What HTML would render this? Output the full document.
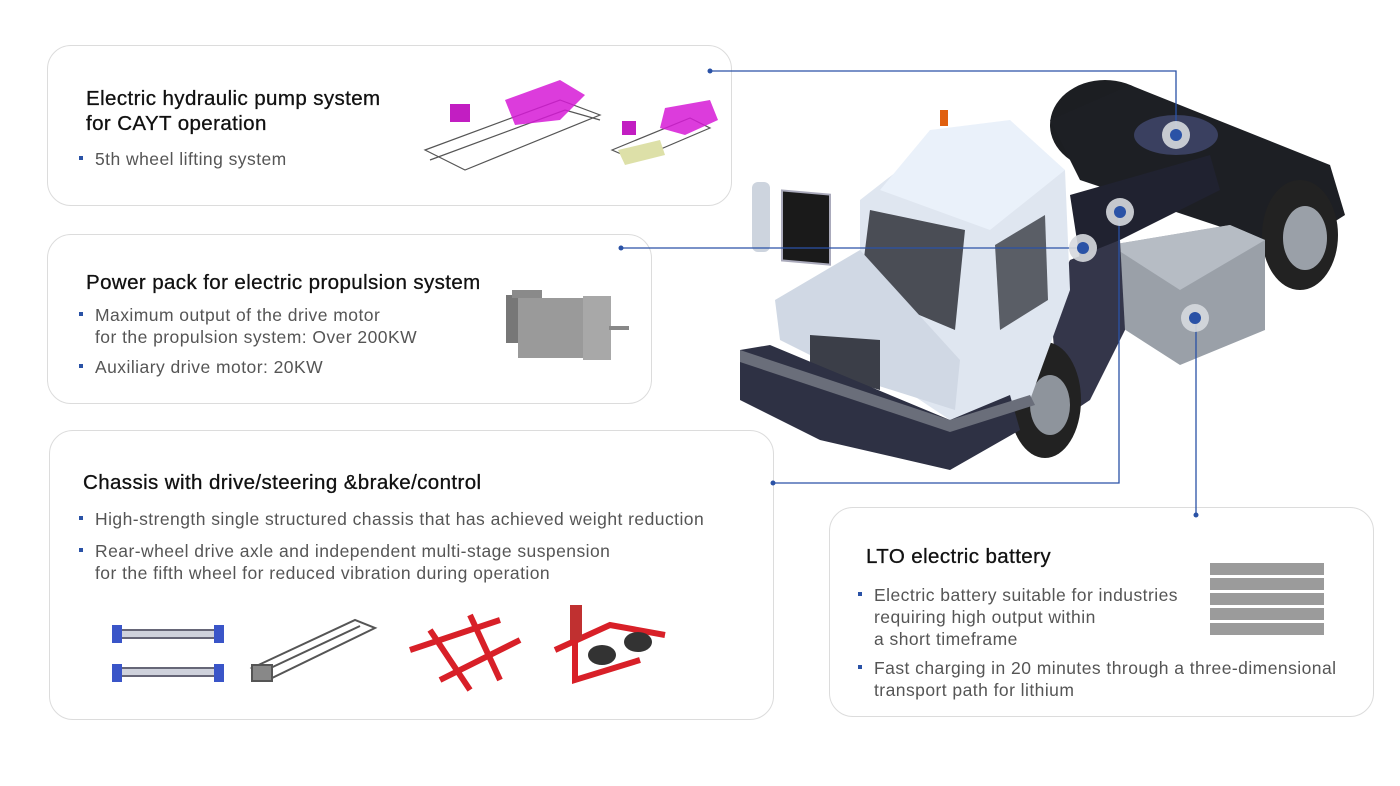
<!DOCTYPE html>
<html><head><meta charset="utf-8"><style>
*{margin:0;padding:0;box-sizing:border-box}
body{width:1400px;height:786px;background:#fff;position:relative;overflow:hidden;font-family:"Liberation Sans",sans-serif}
.box{position:absolute;border:1px solid #dcdcdc;border-radius:24px;background:#fff}
.t{position:absolute;font-size:20.5px;color:#111;line-height:25px;letter-spacing:.4px;-webkit-text-stroke:.3px #111}
.b{position:absolute;font-size:17.5px;color:#555;line-height:22px;padding-left:16px;letter-spacing:.45px;white-space:nowrap}
.b:before{content:"";position:absolute;left:0;top:8px;width:4px;height:4px;background:#2a52a6}
svg{position:absolute;left:0;top:0}
</style></head><body>
<div class="box" style="left:47px;top:45px;width:685px;height:161px"></div>
<div class="box" style="left:47px;top:234px;width:605px;height:170px"></div>
<div class="box" style="left:49px;top:430px;width:725px;height:290px"></div>
<div class="box" style="left:829px;top:507px;width:545px;height:210px"></div>

<div class="t" style="left:86px;top:86px">Electric hydraulic pump system<br>for CAYT operation</div>
<div class="b" style="left:79px;top:148px">5th wheel lifting system</div>

<div class="t" style="left:86px;top:270px">Power pack for electric propulsion system</div>
<div class="b" style="left:79px;top:304px">Maximum output of the drive motor<br>for the propulsion system: Over 200KW</div>
<div class="b" style="left:79px;top:356px">Auxiliary drive motor: 20KW</div>

<div class="t" style="left:83px;top:470px">Chassis with drive/steering &amp;brake/control</div>
<div class="b" style="left:79px;top:508px">High-strength single structured chassis that has achieved weight reduction</div>
<div class="b" style="left:79px;top:540px">Rear-wheel drive axle and independent multi-stage suspension<br>for the fifth wheel for reduced vibration during operation</div>

<div class="t" style="left:866px;top:544px">LTO electric battery</div>
<div class="b" style="left:858px;top:584px">Electric battery suitable for industries<br>requiring high output within<br>a short timeframe</div>
<div class="b" style="left:858px;top:657px">Fast charging in 20 minutes through a three-dimensional<br>transport path for lithium</div>

<svg width="1400" height="786">
<g stroke="#555" stroke-width="1.2" fill="none">
<path d="M425 150 L560 100 L600 115 L465 170 Z"/><path d="M430 160 L565 110 L600 120"/>
<path d="M612 150 L690 118 L710 128 L635 160 Z"/>
</g>
<path d="M505 100 L560 80 L585 95 L560 120 L515 125 Z" fill="#d61ad6" opacity=".85"/>
<rect x="450" y="104" width="20" height="18" fill="#c21ec2"/>
<path d="M665 108 L710 100 L718 120 L685 135 L660 128 Z" fill="#d61ad6" opacity=".85"/>
<rect x="622" y="121" width="14" height="14" fill="#c21ec2"/>
<path d="M618 150 L660 140 L665 155 L625 165 Z" fill="#dde0a8"/>
<rect x="506" y="295" width="20" height="48" fill="#777"/>
<rect x="518" y="298" width="75" height="60" fill="#9a9a9a"/>
<rect x="583" y="296" width="28" height="64" fill="#a8a8a8"/>
<rect x="609" y="326" width="20" height="4" fill="#888"/>
<rect x="512" y="290" width="30" height="8" fill="#8a8a8a"/>
<g fill="#9b9b9b">
<rect x="1210" y="563" width="114" height="12"/><rect x="1210" y="578" width="114" height="12"/>
<rect x="1210" y="593" width="114" height="12"/><rect x="1210" y="608" width="114" height="12"/>
<rect x="1210" y="623" width="114" height="12"/></g>
<g stroke="#667" stroke-width="2" fill="#cfd2dc">
<rect x="118" y="630" width="100" height="8"/><rect x="118" y="668" width="100" height="8"/></g>
<g fill="#3a55c8"><rect x="112" y="625" width="10" height="18"/><rect x="214" y="625" width="10" height="18"/>
<rect x="112" y="664" width="10" height="18"/><rect x="214" y="664" width="10" height="18"/></g>
<g stroke="#555" stroke-width="2" fill="none"><path d="M252 668 L355 620 L375 628 L272 678 Z"/><path d="M262 672 L360 626"/><rect x="252" y="665" width="20" height="16" fill="#888"/></g>
<g stroke="#d82028" stroke-width="6" fill="none">
<path d="M410 650 L500 620"/><path d="M440 680 L520 640"/><path d="M430 630 L470 690"/><path d="M470 615 L500 680"/>
<path d="M555 650 L610 625 L665 635"/><path d="M575 630 L575 680 L640 660"/></g>
<rect x="570" y="605" width="12" height="35" fill="#c03030"/>
<ellipse cx="602" cy="655" rx="14" ry="10" fill="#333"/><ellipse cx="638" cy="642" rx="14" ry="10" fill="#333"/>
<!-- truck -->
<ellipse cx="1105" cy="125" rx="55" ry="45" fill="#1c1e22"/>
<path d="M1050 120 L1130 85 L1330 165 L1345 215 L1290 250 L1080 180 Z" fill="#1d1f24"/>
<ellipse cx="1300" cy="235" rx="38" ry="55" fill="#222"/><ellipse cx="1305" cy="238" rx="22" ry="32" fill="#9aa0a8"/>
<ellipse cx="1176" cy="135" rx="42" ry="20" fill="#3a4060"/>
<path d="M1070 195 L1210 155 L1220 190 L1080 260 Z" fill="#202230"/>
<path d="M1110 245 L1230 225 L1265 240 L1265 330 L1180 365 L1110 320 Z" fill="#9aa0a8"/>
<path d="M1110 245 L1230 225 L1265 240 L1180 290 Z" fill="#b6bcc4"/>
<path d="M1070 260 L1120 240 L1125 330 L1090 400 L1060 420 L1050 300 Z" fill="#34364a"/>
<ellipse cx="1045" cy="400" rx="36" ry="58" fill="#222"/><ellipse cx="1050" cy="405" rx="20" ry="30" fill="#8e949c"/>
<path d="M860 200 L950 130 L1065 170 L1070 290 L1030 400 L950 420 L860 360 Z" fill="#dfe6f0"/>
<path d="M930 130 L1010 120 L1065 170 L990 230 L880 190 Z" fill="#eaf1fa"/>
<path d="M870 210 L965 230 L955 330 L860 290 Z" fill="#4a4d55"/>
<path d="M995 245 L1045 215 L1048 300 L1000 330 Z" fill="#5a5e66"/>
<path d="M775 300 L860 250 L960 360 L955 410 L860 380 L780 340 Z" fill="#d0d8e4"/>
<path d="M810 335 L880 340 L880 390 L810 370 Z" fill="#3b3e48"/>
<path d="M740 350 L770 345 L950 420 L1010 395 L1020 430 L950 470 L820 440 L740 400 Z" fill="#2e3144"/>
<path d="M740 350 L950 420 L1030 395 L1035 405 L950 432 L740 362 Z" fill="#6a6e7a"/>
<rect x="782" y="192" width="48" height="70" fill="#1a1a1a" stroke="#aab" stroke-width="2" transform="skewY(5) translate(0,-70)"/>
<rect x="752" y="182" width="18" height="70" rx="6" fill="#cdd4de"/>
<rect x="940" y="110" width="8" height="16" fill="#e06010"/>
<g stroke="#2a52a6" stroke-width="1.3" fill="none">
<path d="M710 71 H1176 V135"/><path d="M621 248 H1083"/><path d="M773 483 H1119 V212"/><path d="M1196 515 V318"/></g>
<g fill="#d6d9de" opacity=".9"><circle cx="1176" cy="135" r="14"/><circle cx="1120" cy="212" r="14"/><circle cx="1083" cy="248" r="14"/><circle cx="1195" cy="318" r="14"/></g>
<g fill="#2a52a6"><circle cx="1176" cy="135" r="6"/><circle cx="1120" cy="212" r="6"/><circle cx="1083" cy="248" r="6"/><circle cx="1195" cy="318" r="6"/>
<circle cx="710" cy="71" r="2.5"/><circle cx="621" cy="248" r="2.5"/><circle cx="773" cy="483" r="2.5"/><circle cx="1196" cy="515" r="2.5"/></g>
</svg>
</body></html>
